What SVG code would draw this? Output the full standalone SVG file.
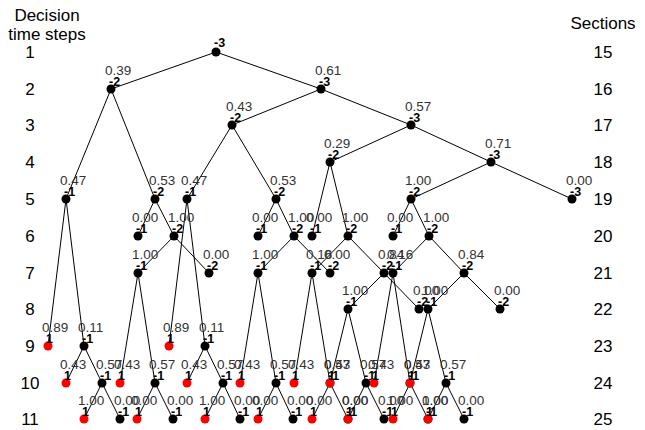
<svg xmlns="http://www.w3.org/2000/svg" width="645" height="430" viewBox="0 0 645 430">
<style>
.e line{stroke:#000;stroke-width:1}
.k{fill:#000}
.r{fill:#ff0000}
circle{r:4.5px}
.p{font-family:"Liberation Sans",Arial,sans-serif;font-size:13.5px;fill:#333}
.a{font-family:"Liberation Sans",Arial,sans-serif;font-size:12.5px;font-weight:bold;fill:#000}
.lab{font-family:"Liberation Sans",Arial,sans-serif;font-size:17px;fill:#000;text-anchor:middle}
</style>
<rect width="645" height="430" fill="#fff"/>
<g id="axis-labels">
<text class="lab" x="47" y="21">Decision</text>
<text class="lab" x="47" y="39.5">time steps</text>
<text class="lab" x="603" y="29">Sections</text>
<text class="lab" x="30" y="58">1</text><text class="lab" x="30" y="95">2</text><text class="lab" x="30" y="131">3</text><text class="lab" x="30" y="168">4</text><text class="lab" x="30" y="205">5</text><text class="lab" x="30" y="242">6</text><text class="lab" x="30" y="279">7</text><text class="lab" x="30" y="315">8</text><text class="lab" x="30" y="352">9</text><text class="lab" x="30" y="389">10</text><text class="lab" x="30" y="425">11</text>
<text class="lab" x="603" y="58">15</text><text class="lab" x="603" y="95">16</text><text class="lab" x="603" y="131">17</text><text class="lab" x="603" y="168">18</text><text class="lab" x="603" y="205">19</text><text class="lab" x="603" y="242">20</text><text class="lab" x="603" y="279">21</text><text class="lab" x="603" y="315">22</text><text class="lab" x="603" y="352">23</text><text class="lab" x="603" y="389">24</text><text class="lab" x="603" y="425">25</text>
</g>
<g id="connectors" class="e">
<line x1="216" y1="52" x2="111" y2="89"/><line x1="216" y1="52" x2="321" y2="89"/>
<line x1="111" y1="89" x2="66" y2="199"/><line x1="111" y1="89" x2="155" y2="199"/>
<line x1="321" y1="89" x2="232" y2="125"/><line x1="321" y1="89" x2="411" y2="125"/>
<line x1="232" y1="125" x2="187" y2="199"/><line x1="232" y1="125" x2="276" y2="199"/>
<line x1="411" y1="125" x2="330" y2="162"/><line x1="411" y1="125" x2="491" y2="162"/>
<line x1="330" y1="162" x2="312" y2="236"/><line x1="330" y1="162" x2="348" y2="236"/>
<line x1="491" y1="162" x2="411" y2="199"/><line x1="491" y1="162" x2="572" y2="199"/>
<line x1="155" y1="199" x2="138" y2="236"/><line x1="155" y1="199" x2="174" y2="236"/>
<line x1="174" y1="236" x2="138" y2="273"/><line x1="174" y1="236" x2="209" y2="273"/>
<line x1="276" y1="199" x2="258" y2="236"/><line x1="276" y1="199" x2="294" y2="236"/>
<line x1="294" y1="236" x2="258" y2="273"/><line x1="294" y1="236" x2="330" y2="273"/>
<line x1="348" y1="236" x2="312" y2="273"/><line x1="348" y1="236" x2="384" y2="273"/>
<line x1="384" y1="273" x2="348" y2="309"/><line x1="384" y1="273" x2="419" y2="309"/>
<line x1="411" y1="199" x2="393" y2="236"/><line x1="411" y1="199" x2="429" y2="236"/>
<line x1="429" y1="236" x2="393" y2="273"/><line x1="429" y1="236" x2="464" y2="273"/>
<line x1="464" y1="273" x2="428" y2="309"/><line x1="464" y1="273" x2="500" y2="309"/>
<line x1="66" y1="199" x2="48" y2="346"/><line x1="66" y1="199" x2="84" y2="346"/>
<line x1="84" y1="346" x2="66" y2="383"/><line x1="84" y1="346" x2="102" y2="383"/>
<line x1="102" y1="383" x2="84" y2="419"/><line x1="102" y1="383" x2="120" y2="419"/>
<line x1="187" y1="199" x2="169" y2="346"/><line x1="187" y1="199" x2="205" y2="346"/>
<line x1="205" y1="346" x2="187" y2="383"/><line x1="205" y1="346" x2="223" y2="383"/>
<line x1="223" y1="383" x2="205" y2="419"/><line x1="223" y1="383" x2="240" y2="419"/>
<line x1="138" y1="273" x2="120" y2="383"/><line x1="138" y1="273" x2="155" y2="383"/>
<line x1="155" y1="383" x2="137" y2="419"/><line x1="155" y1="383" x2="173" y2="419"/>
<line x1="258" y1="273" x2="240" y2="383"/><line x1="258" y1="273" x2="276" y2="383"/>
<line x1="276" y1="383" x2="258" y2="419"/><line x1="276" y1="383" x2="293" y2="419"/>
<line x1="312" y1="273" x2="294" y2="383"/><line x1="312" y1="273" x2="330" y2="383"/>
<line x1="330" y1="383" x2="312" y2="419"/><line x1="330" y1="383" x2="348" y2="419"/>
<line x1="393" y1="273" x2="374" y2="383"/><line x1="393" y1="273" x2="410" y2="383"/>
<line x1="410" y1="383" x2="393" y2="419"/><line x1="410" y1="383" x2="428" y2="419"/>
<line x1="348" y1="309" x2="330" y2="383"/><line x1="348" y1="309" x2="366" y2="383"/>
<line x1="366" y1="383" x2="348" y2="419"/><line x1="366" y1="383" x2="384" y2="419"/>
<line x1="428" y1="309" x2="410" y2="383"/><line x1="428" y1="309" x2="446" y2="383"/>
<line x1="446" y1="383" x2="428" y2="419"/><line x1="446" y1="383" x2="464" y2="419"/>
</g>
<g id="nodes">
<g id="n0"><circle class="k" cx="216" cy="52" r="4.5"/><text class="a" x="214" y="47">-3</text></g>
<g id="n1"><circle class="k" cx="111" cy="89" r="4.5"/><text class="p" x="105" y="75">0.39</text><text class="a" x="109" y="86">-2</text></g>
<g id="n2"><circle class="k" cx="321" cy="89" r="4.5"/><text class="p" x="315" y="75">0.61</text><text class="a" x="319" y="86">-3</text></g>
<g id="n3"><circle class="k" cx="232" cy="125" r="4.5"/><text class="p" x="226" y="111">0.43</text><text class="a" x="230" y="122">-2</text></g>
<g id="n4"><circle class="k" cx="411" cy="125" r="4.5"/><text class="p" x="405" y="111">0.57</text><text class="a" x="409" y="122">-3</text></g>
<g id="n5"><circle class="k" cx="330" cy="162" r="4.5"/><text class="p" x="324" y="148">0.29</text><text class="a" x="328" y="159">-2</text></g>
<g id="n6"><circle class="k" cx="491" cy="162" r="4.5"/><text class="p" x="485" y="148">0.71</text><text class="a" x="489" y="159">-3</text></g>
<g id="la"><circle class="k" cx="66" cy="199" r="4.5"/><text class="p" x="60" y="185">0.47</text><text class="a" x="64" y="196">-1</text></g>
<g id="lb"><circle class="k" cx="155" cy="199" r="4.5"/><text class="p" x="149" y="185">0.53</text><text class="a" x="153" y="196">-2</text></g>
<g id="ma"><circle class="k" cx="187" cy="199" r="4.5"/><text class="p" x="181" y="185">0.47</text><text class="a" x="185" y="196">-1</text></g>
<g id="mb"><circle class="k" cx="276" cy="199" r="4.5"/><text class="p" x="270" y="185">0.53</text><text class="a" x="274" y="196">-2</text></g>
<g id="qt"><circle class="k" cx="411" cy="199" r="4.5"/><text class="p" x="405" y="185">1.00</text><text class="a" x="409" y="196">-2</text></g>
<g id="qz"><circle class="k" cx="572" cy="199" r="4.5"/><text class="p" x="566" y="185">0.00</text><text class="a" x="570" y="196">-3</text></g>
<g id="lc"><circle class="k" cx="138" cy="236" r="4.5"/><text class="p" x="132" y="222">0.00</text><text class="a" x="136" y="233">-1</text></g>
<g id="ld"><circle class="k" cx="174" cy="236" r="4.5"/><text class="p" x="168" y="222">1.00</text><text class="a" x="172" y="233">-2</text></g>
<g id="mc"><circle class="k" cx="258" cy="236" r="4.5"/><text class="p" x="252" y="222">0.00</text><text class="a" x="256" y="233">-1</text></g>
<g id="md"><circle class="k" cx="294" cy="236" r="4.5"/><text class="p" x="288" y="222">1.00</text><text class="a" x="292" y="233">-2</text></g>
<g id="pa"><circle class="k" cx="312" cy="236" r="4.5"/><text class="p" x="306" y="222">0.00</text><text class="a" x="310" y="233">-1</text></g>
<g id="pb"><circle class="k" cx="348" cy="236" r="4.5"/><text class="p" x="342" y="222">1.00</text><text class="a" x="346" y="233">-2</text></g>
<g id="qa"><circle class="k" cx="393" cy="236" r="4.5"/><text class="p" x="387" y="222">0.00</text><text class="a" x="391" y="233">-1</text></g>
<g id="qb"><circle class="k" cx="429" cy="236" r="4.5"/><text class="p" x="423" y="222">1.00</text><text class="a" x="427" y="233">-2</text></g>
<g id="le"><circle class="k" cx="138" cy="273" r="4.5"/><text class="p" x="132" y="259">1.00</text><text class="a" x="136" y="270">-1</text></g>
<g id="lf"><circle class="k" cx="209" cy="273" r="4.5"/><text class="p" x="203" y="259">0.00</text><text class="a" x="207" y="270">-2</text></g>
<g id="me"><circle class="k" cx="258" cy="273" r="4.5"/><text class="p" x="252" y="259">1.00</text><text class="a" x="256" y="270">-1</text></g>
<g id="pc"><circle class="k" cx="312" cy="273" r="4.5"/><text class="p" x="306" y="259">0.16</text><text class="a" x="310" y="270">-1</text></g>
<g id="mf"><circle class="k" cx="330" cy="273" r="4.5"/><text class="p" x="324" y="259">0.00</text><text class="a" x="328" y="270">-2</text></g>
<g id="pd"><circle class="k" cx="384" cy="273" r="4.5"/><text class="p" x="378" y="259">0.84</text><text class="a" x="382" y="270">-2</text></g>
<g id="qc"><circle class="k" cx="393" cy="273" r="4.5"/><text class="p" x="387" y="259">0.16</text><text class="a" x="391" y="270">-1</text></g>
<g id="qd"><circle class="k" cx="464" cy="273" r="4.5"/><text class="p" x="458" y="259">0.84</text><text class="a" x="462" y="270">-2</text></g>
<g id="pe"><circle class="k" cx="348" cy="309" r="4.5"/><text class="p" x="342" y="295">1.00</text><text class="a" x="346" y="306">-1</text></g>
<g id="pf"><circle class="k" cx="419" cy="309" r="4.5"/><text class="p" x="413" y="295">0.00</text><text class="a" x="417" y="306">-2</text></g>
<g id="qe"><circle class="k" cx="428" cy="309" r="4.5"/><text class="p" x="422" y="295">1.00</text><text class="a" x="426" y="306">-1</text></g>
<g id="qf"><circle class="k" cx="500" cy="309" r="4.5"/><text class="p" x="494" y="295">0.00</text><text class="a" x="498" y="306">-2</text></g>
<g id="lh"><circle class="k" cx="84" cy="346" r="4.5"/><text class="p" x="78" y="332">0.11</text><text class="a" x="82" y="343">-1</text></g>
<g id="mh"><circle class="k" cx="205" cy="346" r="4.5"/><text class="p" x="199" y="332">0.11</text><text class="a" x="203" y="343">-1</text></g>
<g id="lj"><circle class="k" cx="102" cy="383" r="4.5"/><text class="p" x="96" y="369">0.57</text><text class="a" x="100" y="380">-1</text></g>
<g id="ln"><circle class="k" cx="155" cy="383" r="4.5"/><text class="p" x="149" y="369">0.57</text><text class="a" x="153" y="380">-1</text></g>
<g id="mj"><circle class="k" cx="223" cy="383" r="4.5"/><text class="p" x="217" y="369">0.57</text><text class="a" x="221" y="380">-1</text></g>
<g id="mn"><circle class="k" cx="276" cy="383" r="4.5"/><text class="p" x="270" y="369">0.57</text><text class="a" x="274" y="380">-1</text></g>
<g id="ph"><circle class="k" cx="330" cy="383" r="4.5"/><text class="p" x="324" y="369">0.57</text><text class="a" x="328" y="380">-1</text></g>
<g id="pl"><circle class="k" cx="366" cy="383" r="4.5"/><text class="p" x="360" y="369">0.57</text><text class="a" x="364" y="380">-1</text></g>
<g id="qh"><circle class="k" cx="410" cy="383" r="4.5"/><text class="p" x="404" y="369">0.57</text><text class="a" x="408" y="380">-1</text></g>
<g id="ql"><circle class="k" cx="446" cy="383" r="4.5"/><text class="p" x="440" y="369">0.57</text><text class="a" x="444" y="380">-1</text></g>
<g id="ll"><circle class="k" cx="120" cy="419" r="4.5"/><text class="p" x="114" y="405">0.00</text><text class="a" x="118" y="416">-1</text></g>
<g id="lp"><circle class="k" cx="173" cy="419" r="4.5"/><text class="p" x="167" y="405">0.00</text><text class="a" x="171" y="416">-1</text></g>
<g id="ml"><circle class="k" cx="240" cy="419" r="4.5"/><text class="p" x="234" y="405">0.00</text><text class="a" x="238" y="416">-1</text></g>
<g id="mp"><circle class="k" cx="293" cy="419" r="4.5"/><text class="p" x="287" y="405">0.00</text><text class="a" x="291" y="416">-1</text></g>
<g id="pj"><circle class="k" cx="348" cy="419" r="4.5"/><text class="p" x="342" y="405">0.00</text><text class="a" x="346" y="416">-1</text></g>
<g id="pn"><circle class="k" cx="384" cy="419" r="4.5"/><text class="p" x="378" y="405">0.00</text><text class="a" x="382" y="416">-1</text></g>
<g id="qj"><circle class="k" cx="428" cy="419" r="4.5"/><text class="p" x="422" y="405">0.00</text><text class="a" x="426" y="416">-1</text></g>
<g id="qn"><circle class="k" cx="464" cy="419" r="4.5"/><text class="p" x="458" y="405">0.00</text><text class="a" x="462" y="416">-1</text></g>
<g id="lg"><circle class="r" cx="48" cy="346" r="4.5"/><text class="p" x="42" y="332">0.89</text><text class="a" x="46" y="343">1</text></g>
<g id="mg"><circle class="r" cx="169" cy="346" r="4.5"/><text class="p" x="163" y="332">0.89</text><text class="a" x="167" y="343">1</text></g>
<g id="li"><circle class="r" cx="66" cy="383" r="4.5"/><text class="p" x="60" y="369">0.43</text><text class="a" x="64" y="380">1</text></g>
<g id="lm"><circle class="r" cx="120" cy="383" r="4.5"/><text class="p" x="114" y="369">0.43</text><text class="a" x="118" y="380">1</text></g>
<g id="mi"><circle class="r" cx="187" cy="383" r="4.5"/><text class="p" x="181" y="369">0.43</text><text class="a" x="185" y="380">1</text></g>
<g id="mm"><circle class="r" cx="240" cy="383" r="4.5"/><text class="p" x="234" y="369">0.43</text><text class="a" x="238" y="380">1</text></g>
<g id="pg"><circle class="r" cx="294" cy="383" r="4.5"/><text class="p" x="288" y="369">0.43</text><text class="a" x="292" y="380">1</text></g>
<g id="pk"><circle class="r" cx="330" cy="383" r="4.5"/><text class="p" x="324" y="369">0.43</text><text class="a" x="328" y="380">1</text></g>
<g id="qg"><circle class="r" cx="374" cy="383" r="4.5"/><text class="p" x="368" y="369">0.43</text><text class="a" x="372" y="380">1</text></g>
<g id="qk"><circle class="r" cx="410" cy="383" r="4.5"/><text class="p" x="404" y="369">0.43</text><text class="a" x="408" y="380">1</text></g>
<g id="lk"><circle class="r" cx="84" cy="419" r="4.5"/><text class="p" x="78" y="405">1.00</text><text class="a" x="82" y="416">1</text></g>
<g id="lo"><circle class="r" cx="137" cy="419" r="4.5"/><text class="p" x="131" y="405">0.00</text><text class="a" x="135" y="416">1</text></g>
<g id="mk"><circle class="r" cx="205" cy="419" r="4.5"/><text class="p" x="199" y="405">1.00</text><text class="a" x="203" y="416">1</text></g>
<g id="mo"><circle class="r" cx="258" cy="419" r="4.5"/><text class="p" x="252" y="405">0.00</text><text class="a" x="256" y="416">1</text></g>
<g id="pi"><circle class="r" cx="312" cy="419" r="4.5"/><text class="p" x="306" y="405">0.00</text><text class="a" x="310" y="416">1</text></g>
<g id="pm"><circle class="r" cx="348" cy="419" r="4.5"/><text class="p" x="342" y="405">0.00</text><text class="a" x="346" y="416">1</text></g>
<g id="qi"><circle class="r" cx="393" cy="419" r="4.5"/><text class="p" x="387" y="405">1.00</text><text class="a" x="391" y="416">1</text></g>
<g id="qm"><circle class="r" cx="428" cy="419" r="4.5"/><text class="p" x="422" y="405">1.00</text><text class="a" x="426" y="416">1</text></g>
</g>
</svg>
